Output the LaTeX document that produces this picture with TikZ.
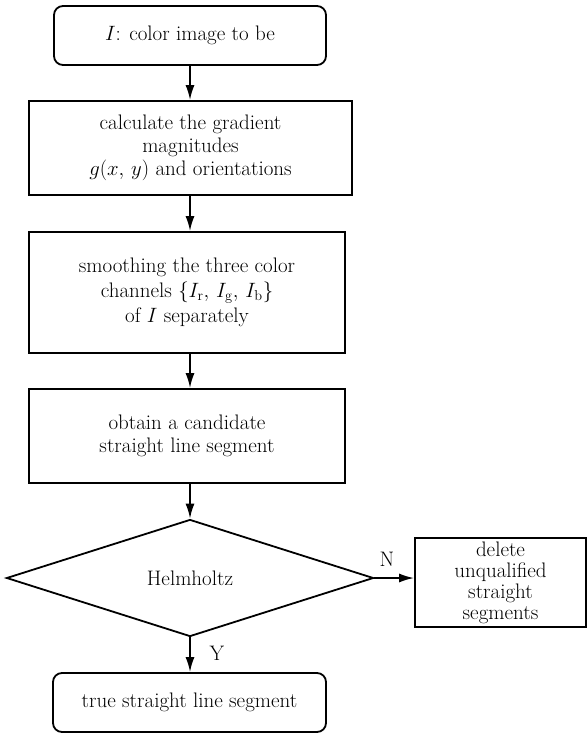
\documentclass[tikz,border=0pt]{standalone}
\usetikzlibrary{shapes.geometric,arrows.meta}
\tikzset{
  procbox/.style={draw, line width=1.8pt, align=center, inner sep=0pt},
  termbox/.style={procbox, rounded corners=9pt},
  flowarrow/.style={line width=1.8pt, -{Latex[length=15pt,width=9pt]}},
}
\begin{document}
\begin{tikzpicture}[x=1pt, y=-1pt, font=\fontsize{21}{23}\selectfont]
    \useasboundingbox (0,0) rectangle (587,735);
    % main column
    \node[termbox, minimum width=272pt, minimum height=59pt] (input) at (190, 35.5) {$I$: color image to be};
    \node[procbox, minimum width=323pt, minimum height=94pt] (gradient) at (190.5, 148) {calculate the gradient\\ magnitudes\\ $g(x,\, y)$ and orientations};
    \node[procbox, minimum width=316pt, minimum height=121pt, font=\fontsize{21}{25}\selectfont] (smooth) at (187, 292.5) {smoothing the three color\\ channels $\{I_\mathrm{r},\, I_\mathrm{g},\, I_\mathrm{b}\}$\\ of $I$ separately};
    \node[procbox, minimum width=316pt, minimum height=94pt] (candidate) at (187, 436) {obtain a candidate\\ straight line segment};
    \node[draw, diamond, line width=1.8pt, inner sep=0pt, minimum width=367pt, minimum height=117pt] (helm) at (190, 578) {Helmholtz};
    \node[termbox, minimum width=273pt, minimum height=59pt] (result) at (189.5, 702.5) {true straight line segment};
    % rejected branch
    \node[procbox, minimum width=171pt, minimum height=89pt, font=\fontsize{21}{21}\selectfont] (delete) at (500.5, 582.5) {delete\\ unqualified\\ straight\\ segments};

    \draw[flowarrow] (input.south) -- (input.south |- gradient.north);
    \draw[flowarrow] (input.south |- gradient.south) -- (input.south |- smooth.north);
    \draw[flowarrow] (input.south |- smooth.south) -- (input.south |- candidate.north);
    \draw[flowarrow] (input.south |- candidate.south) -- (helm.north);
    \draw[flowarrow] (helm.south) -- (helm.south |- result.north);
    \draw[flowarrow] (helm.east) -- (helm.east -| delete.west);

    \node (labelN) at (387, 559) {N};
    \node (labelY) at (217, 653) {Y};
\end{tikzpicture}
\end{document}
